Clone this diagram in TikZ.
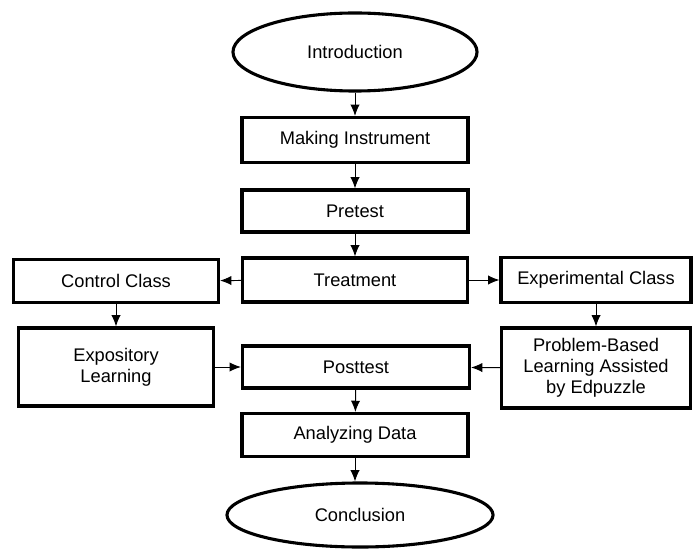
\documentclass[tikz,border=0pt]{standalone}
\usepackage{fontspec}
\setmainfont{Liberation Sans}
\usepackage{tikz}
\usetikzlibrary{shapes.geometric}
\usetikzlibrary{arrows.meta}

\tikzset{
	stepbox/.style={draw, line width=2.2pt, rectangle, align=center, inner sep=0pt, font=\fontsize{13}{15}\selectfont},
	endnode/.style={draw, line width=2.2pt, ellipse, inner sep=0pt, font=\fontsize{13}{15}\selectfont},
	flow/.style={->, >={Latex[length=2.8mm,width=2.3mm]}, line width=0.7pt}
}

\begin{document}
\begin{tikzpicture}[x=0.025cm, y=-0.025cm]
	\useasboundingbox (0,0) rectangle (694,550);

	\node[endnode, minimum width=6.1cm, minimum height=1.95cm] at (355,52) (intro) {Introduction};
	\node[stepbox, minimum width=5.65cm, minimum height=1.125cm] at (355,140) (make) {Making Instrument};
	\node[stepbox, minimum width=5.65cm, minimum height=1.05cm] at (355,211) (pre) {Pretest};
	\node[stepbox, minimum width=5.625cm, minimum height=1.1cm] at (355,280) (treat) {Treatment};

	\node[stepbox, minimum width=5.125cm, minimum height=1.075cm] at (116,281) (control) {Control Class};
	\node[stepbox, minimum width=4.75cm, minimum height=1.125cm] at (596,280) (exper) {Experimental Class};

	\node[stepbox, minimum width=4.875cm, minimum height=1.95cm] at (116,367) (expo) {Expository\\Learning};
	\node[stepbox, minimum width=5.675cm, minimum height=1.05cm] at (356,367) (post) {Posttest};
	\node[stepbox, minimum width=4.725cm, minimum height=2cm] at (596,368) (pbl) {Problem-Based\\Learning Assisted\\by Edpuzzle};

	\node[stepbox, minimum width=5.65cm, minimum height=1.075cm] at (355,435) (anal) {Analyzing Data};
	\node[endnode, minimum width=6.65cm, minimum height=1.6cm] at (360,515) (concl) {Conclusion};

	\draw[flow] (intro) -- (make);
	\draw[flow] (make) -- (pre);
	\draw[flow] (pre) -- (treat);
	\draw[flow] (treat) -- (control);
	\draw[flow] (treat) -- (exper);
	\draw[flow] (control) -- (expo);
	\draw[flow] (exper) -- (pbl);
	\draw[flow] (expo) -- (post);
	\draw[flow] (pbl) -- (post);
	\draw[flow] (post) -- (anal);
	\draw[flow] (anal.south) -- (concl.north -| anal.south);
\end{tikzpicture}
\end{document}
